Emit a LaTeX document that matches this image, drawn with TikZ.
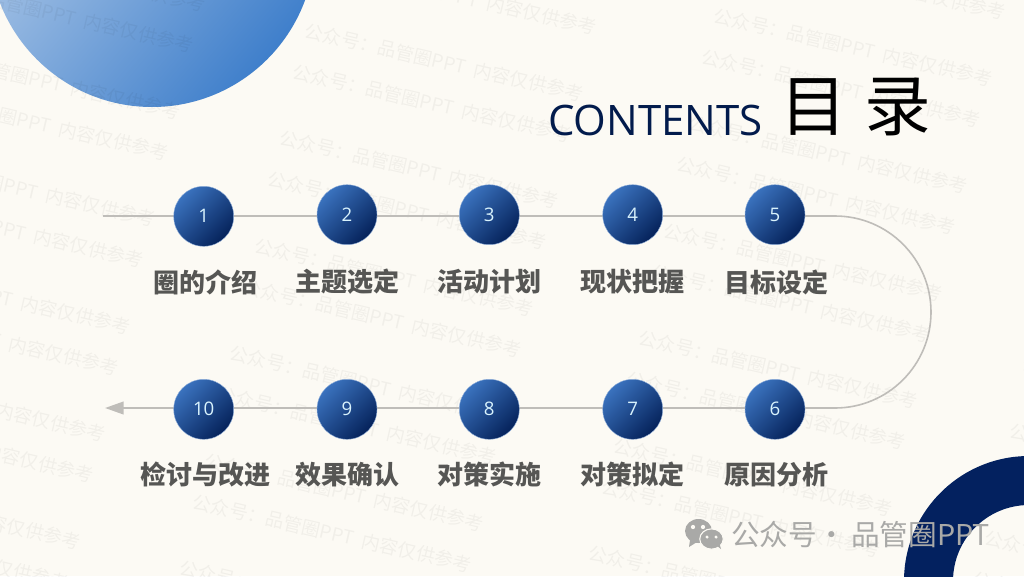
\documentclass[tikz,border=0pt]{standalone}
\usepackage{fontspec}
\usetikzlibrary{arrows.meta,calc}
\newfontfamily\cjk{Noto Sans CJK SC}
\newfontfamily\latinhead{Open Sans}
\definecolor{paper}{HTML}{FCFAF4}
\definecolor{wmark}{HTML}{000000}
\definecolor{linegrey}{HTML}{BFBDB9}
\definecolor{navy}{HTML}{03215F}
\definecolor{labelgrey}{HTML}{565654}
\definecolor{brand}{HTML}{A9A9A7}
\definecolor{balltop}{HTML}{3A72BE}
\definecolor{ballbot}{HTML}{05225A}
\definecolor{sunlight}{HTML}{B8CFEA}
\definecolor{sundark}{HTML}{3F7FCB}
\pgfdeclarelayer{backdrop}
\pgfdeclarelayer{linework}
\pgfsetlayers{backdrop,linework,main}
\tikzset{
  ball/.style={circle,minimum size=45pt,inner sep=0pt,draw=balltop!55!white,line width=.3pt,
    top color=balltop,bottom color=ballbot,shading angle=45,
    text=white!85!cyan,font=\latinhead\fontsize{14}{14}\selectfont},
  steplabel/.style={inner sep=0pt,text=labelgrey,font=\cjk\bfseries\fontsize{19.5}{20}\selectfont},
  watermark/.style={anchor=west,inner sep=0pt,rotate=-13,text=wmark,text opacity=.045,
    font=\cjk\fontsize{14}{14}\selectfont},
  guide/.style={draw=linegrey,line width=1.5pt},
}
\begin{document}
\begin{tikzpicture}[x=.75pt,y=-.75pt]
\useasboundingbox (0,0) rectangle (1024,576);
\begin{pgfonlayer}{backdrop}
  \begin{scope}
    \clip (0,0) rectangle (1024,576);
    \fill[paper] (0,0) rectangle (1024,576);
    \shade[top color=sunlight,bottom color=sundark,shading angle=50] (152,-56) circle[radius=122.25pt];
    \foreach \c/\dx/\dy in {0/-403/18,1/0/0,2/409/-15,3/805/-30}{
      \foreach \k in {-1,...,5}{
        \node[watermark] (wa\c\k) at ({305+\dx-25*\k},{30+\dy+107.5*\k}) {公众号：品管圈PPT\ \ 内容仅供参考};
        \node[watermark] (wb\c\k) at ({293+\dx-25*\k},{71+\dy+107.5*\k}) {公众号：品管圈PPT\ \ 内容仅供参考};
      }
    }
    \fill[navy,even odd rule] (1029,581) circle[radius=93.75pt] (1029,581) circle[radius=57pt];
  \end{scope}
\end{pgfonlayer}

\node[text=navy!80!black,inner sep=0pt,anchor=base west,font=\latinhead\fontsize{31.5}{32}\selectfont] (entitle) at (548,135) {CONTENTS};
\node[text=black,inner sep=0pt,anchor=base west,font=\cjk\fontsize{50}{50}\selectfont] (zhtitle) at (780,130) {目\hspace{13pt}录};

\node[ball] (n1) at (203.7,216.3) {1};
\node[ball] (n2) at (347,214.7) {2};
\node[ball] (n3) at (489.3,214.7) {3};
\node[ball] (n4) at (632.7,214.7) {4};
\node[ball] (n5) at (775,214.7) {5};
\node[ball] (n6) at (775,409.3) {6};
\node[ball] (n7) at (632.7,409.3) {7};
\node[ball] (n8) at (489.3,409.3) {8};
\node[ball] (n9) at (347,409.3) {9};
\node[ball] (n10) at (203.7,409.3) {10};

\node[steplabel] (l1) at (205,282) {圈的介绍};
\node[steplabel] (l2) at (347.5,282) {主题选定};
\node[steplabel] (l3) at (489.5,282) {活动计划};
\node[steplabel] (l4) at (632.5,282) {现状把握};
\node[steplabel] (l5) at (776,282) {目标设定};
\node[steplabel] (l6) at (776,474.5) {原因分析};
\node[steplabel] (l7) at (632.5,474.5) {对策拟定};
\node[steplabel] (l8) at (489.5,474.5) {对策实施};
\node[steplabel] (l9) at (347.5,474.5) {效果确认};
\node[steplabel] (l10) at (205.5,474.5) {检讨与改进};

\coordinate (lstart) at (103,216);
\coordinate (ltop) at (835,216);
\coordinate (lbot) at (835,408);
\coordinate (ltip) at (105,408);

\begin{pgfonlayer}{linework}
  \draw[guide] (lstart) -- (lstart -| n5);
  \draw[guide,line width=1.2pt] (lstart -| n5) -- (ltop) arc[start angle=90,end angle=-90,radius=72pt] -- (lbot -| n6);
  \draw[guide] (lbot -| n6) -- (lbot -| n10);
  \draw[guide,-{Triangle[length=14pt,width=9.5pt]}] (lbot -| n10) -- (ltip);
\end{pgfonlayer}

% WeChat mark
\fill[brand] (698.5,531) ellipse[x radius=10.1pt,y radius=9pt];
\fill[brand] (690,540) -- (689,547) -- (697,542) -- cycle;
\fill[brand,draw=paper,line width=.8pt] (711.5,539) ellipse[x radius=8.8pt,y radius=7.6pt];
\fill[brand] (716,545) -- (721,549) -- (719,542) -- cycle;
\fill[paper] (693,527) circle[radius=1.6pt] (703,527) circle[radius=1.6pt]
  (707,537) circle[radius=1.3pt] (716,537) circle[radius=1.3pt];
\node[text=brand,inner sep=0pt,anchor=west,font=\cjk\fontsize{21.5}{22}\selectfont] (brandname) at (731,534.5) {公众号·\hspace{4pt}品管圈PPT};
\end{tikzpicture}
\end{document}
